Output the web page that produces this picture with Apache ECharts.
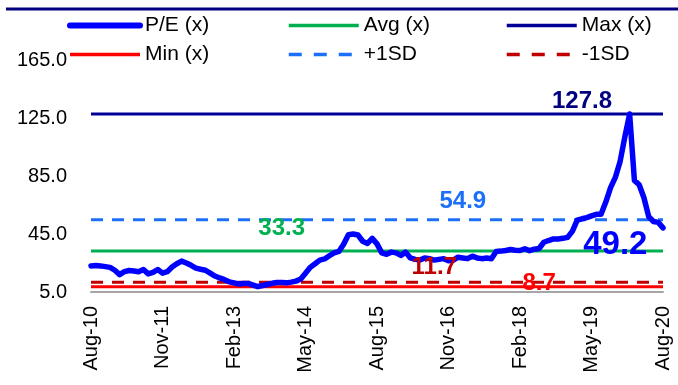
<!DOCTYPE html>
<html>
<head>
<meta charset="utf-8">
<script src="https://cdn.jsdelivr.net/npm/echarts@6/dist/echarts.min.js"></script>
<style>
html,body{margin:0;padding:0;background:#fff;}
#chart{width:678px;height:385px;}
</style>
</head>
<body>
<div id="chart"></div>
<script>
// Monthly categories Aug-10 .. Aug-20
const months = ['Jan','Feb','Mar','Apr','May','Jun','Jul','Aug','Sep','Oct','Nov','Dec'];
const categories = [];
for (let y = 2010, m = 7; y < 2020 || (y === 2020 && m <= 7); ) {
  categories.push(months[m] + '-' + String(y).slice(2));
  m++; if (m === 12) { m = 0; y++; }
}

// P/E (x), one value per month
const peValues = [
  23, 23.2, 23, 22.5, 22, 20, 17, 19, 19.8, 19.5,
  19, 20.5, 17.5, 18.5, 20.5, 18, 19, 22.2, 24.5, 26.3,
  25, 23.4, 21.5, 20.7, 20, 18, 16, 14.7, 13.5, 12,
  11.3, 10.5, 10.8, 10.9, 9.8, 8.7, 9.5, 10.2, 11, 11.6,
  11.5, 11.3, 11.8, 12.5, 14, 18, 22, 24.5, 27, 27.8,
  30, 32, 33, 38, 44.5, 45, 44.3, 40, 38.5, 42,
  38.2, 32, 31, 32.5, 32, 30.2, 32.5, 28.5, 27.5, 27,
  28.5, 28, 27, 27.5, 28, 26.5, 27, 29, 28.5, 28,
  29.7, 28.5, 28, 28.4, 28, 33, 33.2, 33.6, 34.3, 33.8,
  33.6, 34.8, 33.5, 34.5, 35, 39.3, 40.5, 41.6, 41.6, 42,
  42.7, 47, 54.5, 55.5, 56.3, 57.5, 58.6, 58.6, 67, 77,
  84, 95, 112, 127.8, 82, 79, 70, 57, 53.6, 53,
  49.2
];

// Reference levels
const avgPE = 33.3;
const maxPE = 127.8;
const minPE = 8.7;
const plus1SD = 54.9;
const minus1SD = 11.7;

// Y axis ticks
const yMin = 5, yMax = 165, yStep = 40;

// Annotation labels: [category index, value, text]
const annotations = [
  [103.2, 136.7, '127.8'],
  [78, 67.8, '54.9'],
  [39.9, 49.1, '33.3'],
  [71.9, 22.2, '11.7'],
  [93.8, 11.2, '8.7'],
  [110.3, 37.4, '49.2']
];
const annColors = ['#000080', '#1C6FF8', '#00B050', '#C00000', '#FF0000', '#0000FF'];
const annSizes = [24, 24, 24, 24, 24, 33];

const FONT = 'Liberation Sans, Arial, sans-serif';
const chart = echarts.init(document.getElementById('chart'));

function flat(v) { return categories.map(() => v); }

const dashedNames = ['+1SD', '-1SD'];
function legendAt(left, names) {
  return {
    orient: 'vertical',
    left: left,
    top: 10,
    itemWidth: 70,
    itemHeight: 20,
    itemGap: 8,
    itemStyle: { opacity: 0 },
    data: names.map(n => ({
      name: n,
      itemStyle: { opacity: 0 },
      lineStyle: dashedNames.includes(n)
        ? { width: 3.5, type: [13, 12] }
        : { width: n === 'P/E (x)' ? 6 : 3.5 }
    })),
    textStyle: { fontFamily: FONT, fontSize: 21, color: '#000', lineHeight: 20 }
  };
}

chart.setOption({
  animation: false,
  backgroundColor: '#fff',
  grid: { left: 91, right: 15, top: 60, bottom: 93, containLabel: false },
  legend: [
    legendAt(62, ['P/E (x)', 'Min (x)']),
    legendAt(282, ['Avg (x)', '+1SD']),
    legendAt(500, ['Max (x)', '-1SD'])
  ],
  graphic: [
    { type: 'line', shape: { x1: 6, y1: 9, x2: 678, y2: 9 }, style: { stroke: '#000080', lineWidth: 3 } }
  ],
  xAxis: {
    type: 'category',
    data: categories,
    boundaryGap: false,
    axisLine: { lineStyle: { color: '#A6A6A6', width: 2 } },
    axisTick: { show: false },
    axisLabel: {
      interval: 14,
      rotate: 90,
      margin: 14,
      fontFamily: FONT,
      fontSize: 20,
      color: '#000'
    },
    splitLine: { show: false }
  },
  yAxis: {
    type: 'value',
    min: yMin, max: yMax, interval: yStep,
    axisLine: { show: false },
    axisTick: { show: false },
    splitLine: { show: false },
    axisLabel: {
      margin: 24,
      fontFamily: FONT,
      fontSize: 20,
      color: '#000',
      formatter: v => v.toFixed(1)
    }
  },
  series: [
    { name: 'Min (x)', type: 'line', data: flat(minPE), symbol: 'none', showSymbol: false, z: 2,
      lineStyle: { color: '#FF0000', width: 3 }, itemStyle: { color: '#FF0000' } },
    { name: '-1SD', type: 'line', data: flat(minus1SD), symbol: 'none', showSymbol: false, z: 2,
      lineStyle: { color: '#C00000', width: 3, type: [12, 9] }, itemStyle: { color: '#C00000' } },
    { name: 'Avg (x)', type: 'line', data: flat(avgPE), symbol: 'none', showSymbol: false, z: 2,
      lineStyle: { color: '#00B050', width: 3 }, itemStyle: { color: '#00B050' } },
    { name: '+1SD', type: 'line', data: flat(plus1SD), symbol: 'none', showSymbol: false, z: 2,
      lineStyle: { color: '#1C6FF8', width: 3, type: [12, 9] }, itemStyle: { color: '#1C6FF8' } },
    { name: 'Max (x)', type: 'line', data: flat(maxPE), symbol: 'none', showSymbol: false, z: 2,
      lineStyle: { color: '#000099', width: 3 }, itemStyle: { color: '#000099' } },
    { name: 'P/E (x)', type: 'line', data: peValues, symbol: 'none', showSymbol: false, z: 3,
      lineStyle: { color: '#0000FF', width: 5.5, cap: 'round', join: 'round' }, itemStyle: { color: '#0000FF' } },
    { name: 'labels', type: 'scatter', symbolSize: 0, z: 5, silent: true,
      itemStyle: { opacity: 1 },
      data: annotations.map((a, i) => ({
        value: [a[0], a[1]],
        label: {
          show: true, position: 'inside', formatter: a[2], opacity: 1,
          color: annColors[i], fontSize: annSizes[i], fontWeight: 'bold', fontFamily: FONT
        }
      }))
    }
  ]
});
</script>
</body>
</html>
